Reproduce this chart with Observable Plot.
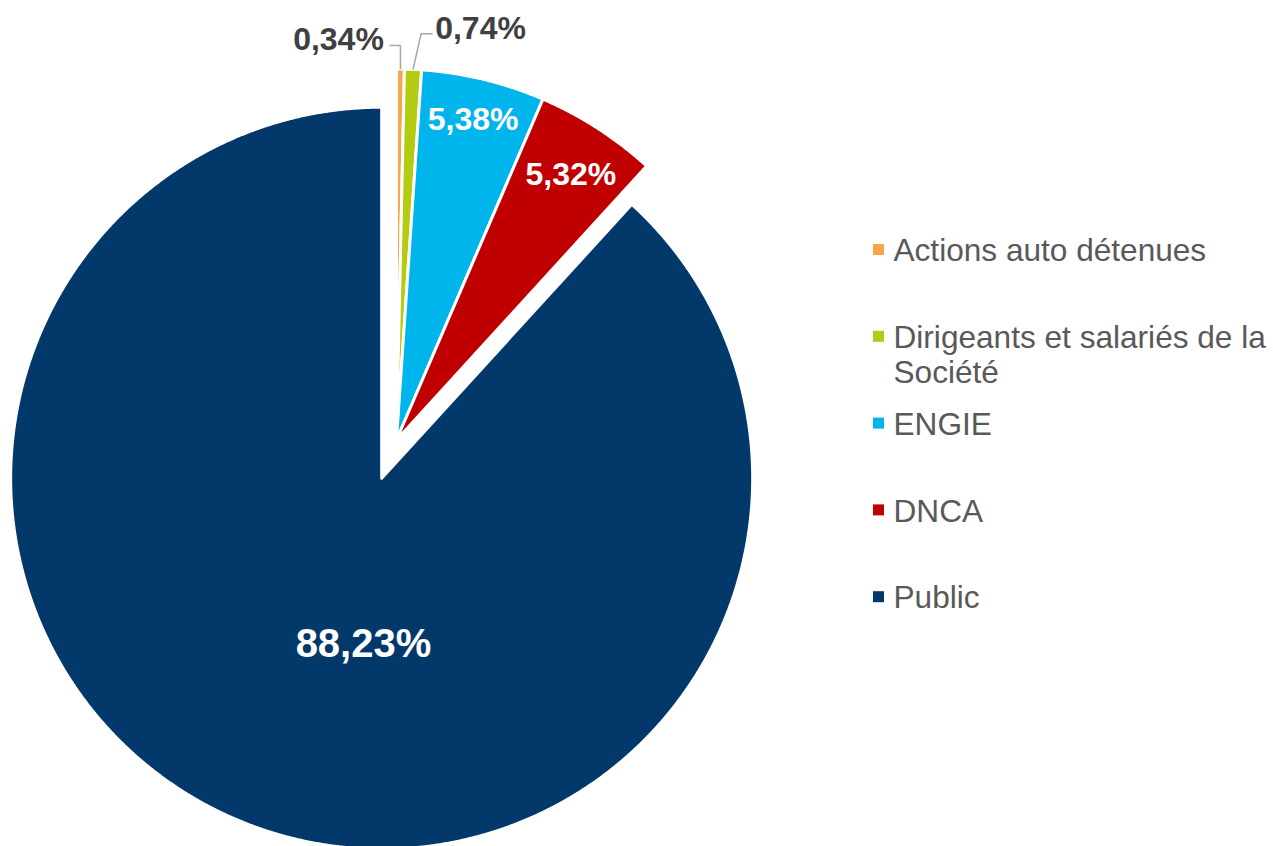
<!DOCTYPE html>
<html><head><meta charset="utf-8">
<script src="https://cdn.jsdelivr.net/npm/d3@7"></script>
<script src="https://cdn.jsdelivr.net/npm/@observablehq/plot@0.6"></script>
<style>body{margin:0;background:#fff;} svg{display:block}</style>
</head><body><div id="chart"></div>
<script>
// ---- data ----
const categories = ["Actions auto détenues", "Dirigeants et salariés de la\nSociété", "ENGIE", "DNCA", "Public"];
const shares = [0.34, 0.74, 5.38, 5.32, 88.23];
const shareLabels = ["0,34%", "0,74%", "5,38%", "5,32%", "88,23%"];
const colors = ["#F7A54A", "#B3CB10", "#00B5EC", "#C00000", "#02386A"];

// ---- layout ----
const W = 1273, H = 846;
const pieCenter = [396, 439.5];
const R = 371;
const exploded = "Public", explodeBy = 41;
const labelPolar = [{a:-8.24, r:1.091}, {a:11.55, r:1.131}, {a:13.45, r:0.888}, {a:33.3, r:0.856}, {a:186.25, r:0.451}];
const labelInside = [false, false, true, true, true];
const labelSize = [32, 32, 32, 32, 40];
const leaderOffsets = [[[0,0],[0,-23.5],[-11,-23.5]], [[0,0],[8,-35.5],[19.5,-35.5]], null, null, null];
const legendX = 873, legendFirstBaseline = 260, legendStep = 86.8, legendFont = 31.6;

const rad = Math.PI / 180;
const arcs = d3.pie().sort(null).value(d => d)(shares);
const slices = arcs.map((a, i) => {
  const mid = (a.startAngle + a.endAngle) / 2;
  const e = categories[i] === exploded ? explodeBy : 0;
  return {i, name: categories[i], a0: a.startAngle, a1: a.endAngle, mid,
          cx: pieCenter[0] + e * Math.sin(mid), cy: pieCenter[1] - e * Math.cos(mid)};
});

const polyPts = [];
for (const s of slices) {
  polyPts.push({name: s.name, x: s.cx, y: s.cy});
  const n = Math.max(2, Math.ceil((s.a1 - s.a0) / (0.2 * rad)));
  for (let k = 0; k <= n; k++) {
    const t = s.a0 + (s.a1 - s.a0) * k / n;
    polyPts.push({name: s.name, x: s.cx + R * Math.sin(t), y: s.cy - R * Math.cos(t)});
  }
  polyPts.push({name: s.name, x: s.cx, y: s.cy});
}

const labels = slices.map(s => {
  const p = labelPolar[s.i];
  return {text: shareLabels[s.i], inside: labelInside[s.i], size: labelSize[s.i],
          x: s.cx + p.r * R * Math.sin(p.a * rad), y: s.cy - p.r * R * Math.cos(p.a * rad)};
});

const leaderPts = [];
slices.forEach(s => {
  const off = leaderOffsets[s.i];
  if (!off) return;
  const ax = s.cx + R * Math.sin(s.mid), ay = s.cy - R * Math.cos(s.mid);
  off.forEach(([dx, dy]) => leaderPts.push({name: s.name, x: ax + dx, y: ay + dy}));
});

const legend = categories.map((c, i) => ({name: c, base: legendFirstBaseline + i * legendStep}));

const font = "Liberation Sans, Arial, Helvetica, sans-serif";
const chart = Plot.plot({
  width: W, height: H, margin: 0,
  x: {domain: [0, W], range: [0, W], axis: null},
  y: {domain: [0, H], range: [0, H], axis: null},
  color: {domain: categories, range: colors},
  style: {background: "white", fontFamily: font},
  marks: [
    Plot.line(polyPts, {x: "x", y: "y", z: "name", fill: "name", stroke: "white", strokeWidth: 3, strokeLinejoin: "round", curve: "linear"}),
    Plot.line(leaderPts, {x: "x", y: "y", z: "name", stroke: "#A6A6A6", strokeWidth: 1.5, strokeLinejoin: "miter", strokeLinecap: "butt"}),
    Plot.text(labels.filter(d => d.inside && d.size === 32), {x: "x", y: "y", text: "text", fill: "white", fontWeight: "bold", fontSize: 32, fontFamily: font}),
    Plot.text(labels.filter(d => d.inside && d.size === 40), {x: "x", y: "y", text: "text", fill: "white", fontWeight: "bold", fontSize: 40, fontFamily: font}),
    Plot.text(labels.filter(d => !d.inside), {x: "x", y: "y", text: "text", fill: "#404040", fontWeight: "bold", fontSize: 32, fontFamily: font}),
    Plot.rect(legend, {x1: legendX, x2: legendX + 11, y1: d => d.base - 16, y2: d => d.base - 5, fill: "name"}),
    Plot.text(legend, {x: legendX + 20, y: d => d.base - 0.71 * legendFont - 1.5, text: "name", textAnchor: "start", lineAnchor: "top", lineHeight: 1.1, fill: "#595959", fontSize: legendFont, fontFamily: font})
  ]
});
document.getElementById("chart").appendChild(chart);
</script>
</body></html>
